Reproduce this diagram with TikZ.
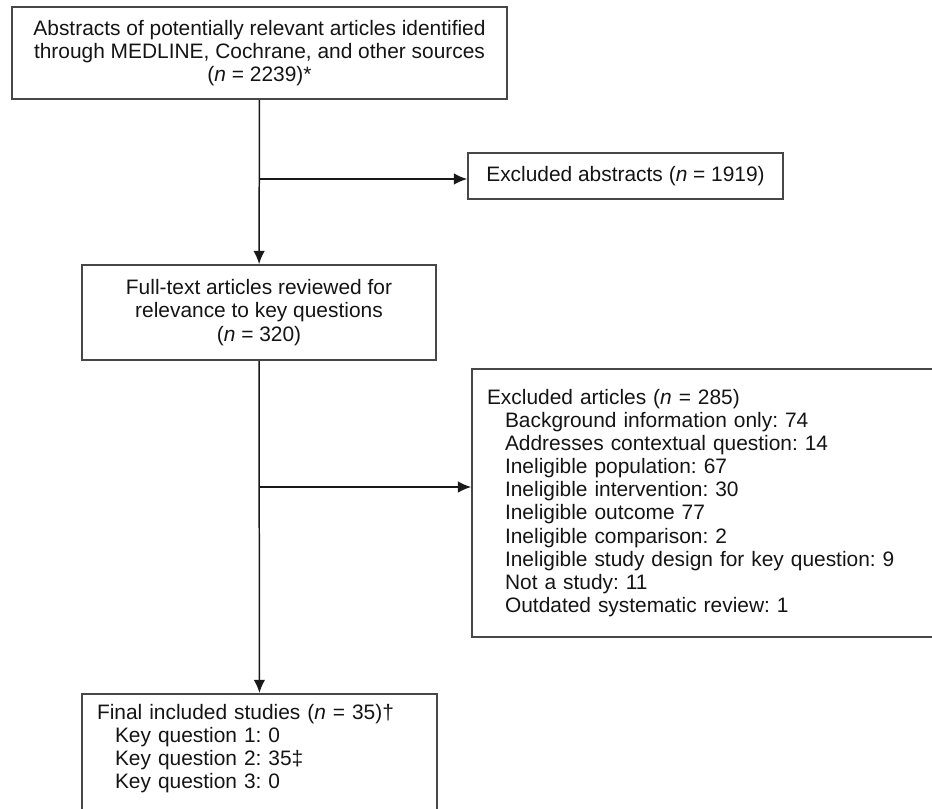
\documentclass[tikz,border=0pt]{standalone}
\usepackage{fontspec}
\setmainfont{Liberation Sans}
\usepackage{tikz}
\usetikzlibrary{calc, positioning, arrows.meta}
\frenchspacing

\begin{document}
\begin{tikzpicture}[x=0.02cm, y=-0.02cm, >={Latex[length=7.5pt,width=6.5pt]},
    every node/.style={font=\fontsize{11.9pt}{13.15pt}\selectfont, text=black!92},
    flowbox/.style={draw=black!72, line width=1pt, inner sep=0pt},
    flowline/.style={draw=black!90, line width=0.85pt}]
    \useasboundingbox (0,0) rectangle (932,808);

    % 1. Boxes
    \node[flowbox, align=center, minimum width=9.9cm, minimum height=1.84cm]
        (abst) at (259.5,53)
        {Abstracts of potentially relevant articles identified\\
         through MEDLINE, Cochrane, and other sources\\
         (\textit{n} = 2239)*};

    \node[flowbox, align=center, minimum width=6.3cm, minimum height=0.92cm]
        (exabs) at (625.5,176) {Excluded abstracts (\textit{n} = 1919)};

    \node[flowbox, align=center, minimum width=7.08cm, minimum height=1.9cm]
        (full) at (259,312.5)
        {Full-text articles reviewed for\\
         relevance to key questions\\
         (\textit{n} = 320)};

    \node[flowbox, align=left, text width=8.66cm, inner xsep=0.3cm,
          minimum height=5.36cm]
        (exart) at (703.5,503)
        {Excluded articles (\textit{n} = 285)\\
         \hspace*{0.36cm}Background information only: 74\\
         \hspace*{0.36cm}Addresses contextual question: 14\\
         \hspace*{0.36cm}Ineligible population: 67\\
         \hspace*{0.36cm}Ineligible intervention: 30\\
         \hspace*{0.36cm}Ineligible outcome 77\\
         \hspace*{0.36cm}Ineligible comparison: 2\\
         \hspace*{0.36cm}Ineligible study design for key question: 9\\
         \hspace*{0.36cm}Not a study: 11\\
         \hspace*{0.36cm}Outdated systematic review: 1};

    \node[flowbox, align=left, anchor=north, text width=6.5cm, inner xsep=0.3cm,
          inner ysep=0.2cm]
        (final) at (259.5,693)
        {Final included studies (\textit{n} = 35)\textdagger\\
         \hspace*{0.36cm}Key question 1: 0\\
         \hspace*{0.36cm}Key question 2: 35\textdaggerdbl\\
         \hspace*{0.36cm}Key question 3: 0\\
         \mbox{}};

    % 2. Connectors
    \coordinate (split1) at (259.5,179);
    \coordinate (split2) at (259.5,487);
    \draw[flowline, ->] (abst) -- (full);
    \draw[flowline, ->] (split1) -- (split1 -| exabs.west);
    \draw[flowline, ->] (full) -- (final);
    \draw[flowline, ->] (split2) -- (split2 -| exart.west);
\end{tikzpicture}
\end{document}
